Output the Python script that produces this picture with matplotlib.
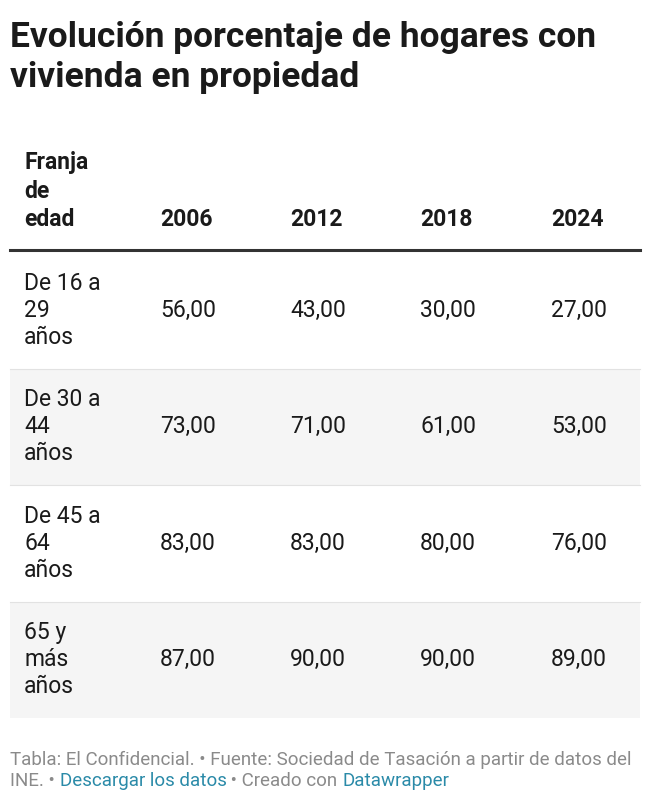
import matplotlib
matplotlib.use("Agg")
import matplotlib.pyplot as plt
from matplotlib.patches import Rectangle

title = ["Evolución porcentaje de hogares con", "vivienda en propiedad"]
header_first = ["Franja", "de", "edad"]
years = ["2006", "2012", "2018", "2024"]
row_labels = [["De 16 a", "29", "años"], ["De 30 a", "44", "años"],
              ["De 45 a", "64", "años"], ["65 y", "más", "años"]]
values = [[56, 43, 30, 27], [73, 71, 61, 53], [83, 83, 80, 76], [87, 90, 90, 89]]

W, H = 650, 800
fig = plt.figure(figsize=(6.5, 8), dpi=100)
ax = fig.add_axes([0, 0, 1, 1])
ax.set_xlim(0, W); ax.set_ylim(H, 0); ax.axis("off")
FONT = "Roboto"
dark = "#1a1a1a"
BODY = 16.5

for i, t in enumerate(title):
    ax.text(10, 38 + i * 40, t, fontsize=25.5, fontweight="bold", family=FONT, color=dark, va="center")

for i, t in enumerate(header_first):
    ax.text(24, 162 + i * 29, t, fontsize=BODY, fontweight="bold", family=FONT, color=dark, va="center")
col_x = [160, 290, 420, 551]
for x, y in zip(col_x, years):
    ax.text(x, 220, y, fontsize=BODY, fontweight="bold", family=FONT, color=dark, va="center")
ax.plot([10, 640], [250, 250], color="#333333", lw=2.2)

row_top = 252; row_h = 116.5
for r, (lab, vals) in enumerate(zip(row_labels, values)):
    top = row_top + r * row_h
    if r % 2 == 1:
        ax.add_patch(Rectangle((10, top), 630, row_h, color="#f5f5f5", lw=0))
    if r > 0:
        ax.plot([10, 640], [top, top], color="#e2e2e2", lw=0.8)
    mid = top + row_h / 2
    for k, t in enumerate(lab):
        ax.text(24, mid - 27 + k * 27, t, fontsize=BODY, family=FONT, color=dark, va="center")
    for x, v in zip(col_x, vals):
        ax.text(x, mid, f"{v:.2f}".replace(".", ","), fontsize=BODY, family=FONT, color=dark, va="center")

gray = "#8a8a8a"; link = "#2a8aa8"
FS = 13.5
ax.text(10, 760, "Tabla: El Confidencial. • Fuente: Sociedad de Tasación a partir de datos del",
        fontsize=FS, family=FONT, color=gray, va="center")
fig.canvas.draw()
r = fig.canvas.get_renderer()
x = 10
for t, c in [("INE. • ", gray), ("Descargar los datos", link), (" • Creado con ", gray), ("Datawrapper", link)]:
    tx = ax.text(x, 781, t, fontsize=FS, family=FONT, color=c, va="center")
    bb = tx.get_window_extent(r)
    x += bb.width * W / fig.bbox.width

fig.savefig("out.png", dpi=100, facecolor="white")
